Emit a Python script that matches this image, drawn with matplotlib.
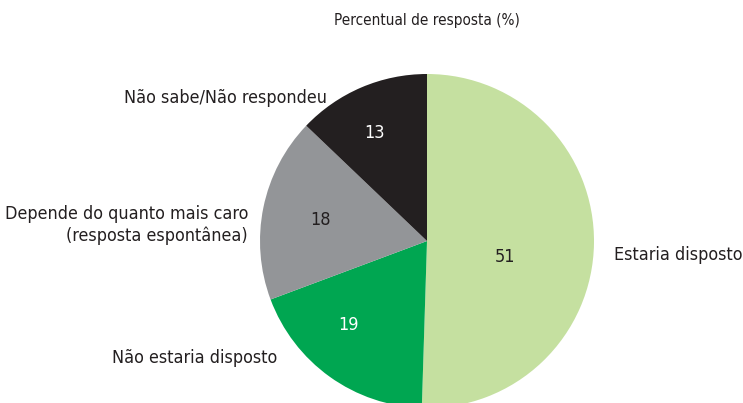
import matplotlib
matplotlib.use("Agg")
from matplotlib import pyplot as plt

# data
categorias = ["Estaria disposto", "Não estaria disposto",
              "Depende do quanto mais caro\n(resposta espontânea)", "Não sabe/Não respondeu"]
valores = [51, 19, 18, 13]
cores = ["#c5e0a0", "#00a651", "#939598", "#231f20"]
cor_numero = ["#231f20", "white", "#231f20", "white"]
titulo = "Percentual de resposta (%)"

plt.rcParams['font.family'] = ['DejaVu Sans']
plt.rcParams['font.stretch'] = 'condensed'

W, H = 743, 403
fig = plt.figure(figsize=(W / 100, H / 100), dpi=100)

# pie centre and radius in pixels
cx, cy, r = 427, 241, 167
ax = fig.add_axes([(cx - r) / W, (H - cy - r) / H, 2 * r / W, 2 * r / H])
ax.pie(valores, colors=cores, startangle=90, counterclock=False,
       wedgeprops=dict(linewidth=0))
ax.set_xlim(-1, 1)
ax.set_ylim(-1, 1)
ax.set_aspect('auto')
ax.axis('off')

def px(x, y):
    return (x - cx) / r, (cy - y) / r

# numbers inside slices
pos_num = [(505, 257), (349, 325), (320, 220), (375, 133)]
for v, (x, y), c in zip(valores, pos_num, cor_numero):
    ax.text(*px(x, y), str(v), ha='center', va='center', fontsize=13, color=c)

# outside labels
pos_lab = [(614, 255, 'left'), (277, 358, 'right'), (248, 225, 'right'), (327, 98, 'right')]
for lab, (x, y, ha) in zip(categorias, pos_lab):
    ax.text(*px(x, y), lab, ha=ha, va='center', fontsize=12.9, color='#231f20',
            multialignment='right', linespacing=1.25, clip_on=False)

fig.text(427 / W, 1 - 20 / H, titulo, ha='center', va='center', fontsize=11, color='#231f20')

fig.savefig("out.png", dpi=100, facecolor='white')
